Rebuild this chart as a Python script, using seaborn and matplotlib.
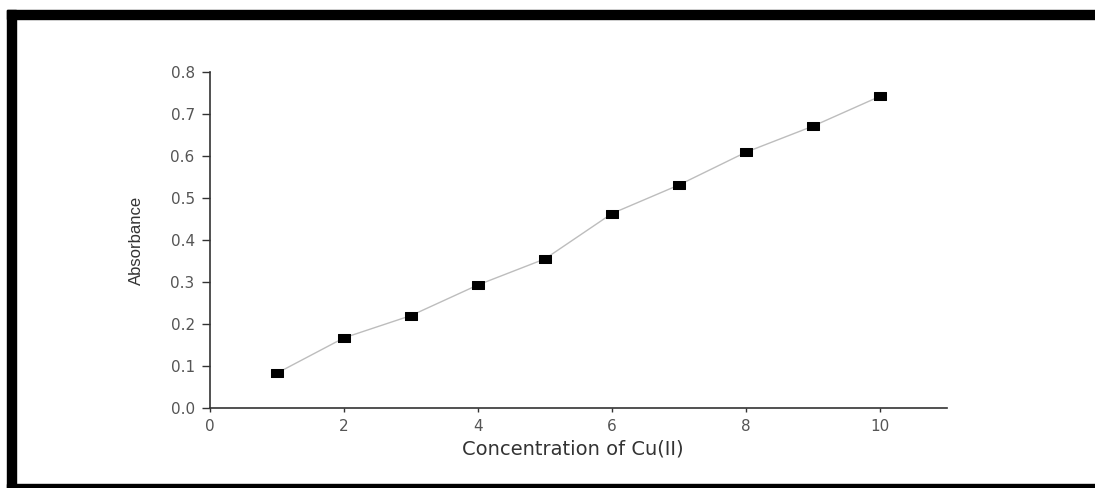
import numpy as np
import pandas as pd
import matplotlib
matplotlib.use('Agg')
import matplotlib.pyplot as plt
import seaborn as sns
from matplotlib.patches import Rectangle

# Cu(II) calibration data
concentration = [1, 2, 3, 4, 5, 6, 7, 8, 9, 10]
absorbance = [0.083, 0.167, 0.220, 0.293, 0.355, 0.463, 0.531, 0.609, 0.671, 0.742]
x_ticks = [0, 2, 4, 6, 8, 10]
y_ticks = [0.0, 0.1, 0.2, 0.3, 0.4, 0.5, 0.6, 0.7, 0.8]

df = pd.DataFrame({'conc': concentration, 'abs': absorbance})

sns.set_style('ticks')
plt.rcParams['font.family'] = ['DejaVu Sans']

fig = plt.figure(figsize=(10.95, 4.88), dpi=100)
ax = fig.add_axes([0.1918, 0.164, 0.673, 0.6885])

# rectangular marker, wider than tall
rect = [(-1.7, -1), (1.7, -1), (1.7, 1), (-1.7, 1), (-1.7, -1)]
sns.lineplot(data=df, x='conc', y='abs', ax=ax, color='#bdbdbd', linewidth=1.0,
             marker=rect, markersize=9, markerfacecolor='black',
             markeredgecolor='black')

ax.set_xlim(0, 11)
ax.set_ylim(0, 0.8)
ax.set_xticks(x_ticks)
ax.set_yticks(y_ticks)
ax.set_yticklabels(['%.1f' % v for v in y_ticks])

for s in ['top', 'right']:
    ax.spines[s].set_visible(False)
for s in ['left', 'bottom']:
    ax.spines[s].set_color('#333333')
    ax.spines[s].set_linewidth(1.2)

ax.tick_params(axis='both', colors='#333333', labelcolor='#555555',
               labelsize=11, width=1)
ax.tick_params(axis='y', length=6, pad=5)
ax.tick_params(axis='x', length=3, pad=5)
ax.set_xlabel('Concentration of Cu(II)', fontsize=14, color='#333333')
ax.xaxis.set_label_coords(0.492, -0.095)
ax.set_ylabel('Absorbance', fontsize=12, color='#333333',
              family='Liberation Sans')
ax.yaxis.set_label_coords(-0.09, 0.5)

# thick black frame around the picture
fig.patches.append(Rectangle((7 / 1095, 469 / 488), 1 - 7 / 1095, 9 / 488,
                             transform=fig.transFigure, color='black', zorder=10))
fig.patches.append(Rectangle((7 / 1095, 0), 9 / 1095, 478 / 488,
                             transform=fig.transFigure, color='black', zorder=10))
fig.patches.append(Rectangle((7 / 1095, 0), 1 - 7 / 1095, 4 / 488,
                             transform=fig.transFigure, color='black', zorder=10))

fig.savefig('out.png', dpi=100)
